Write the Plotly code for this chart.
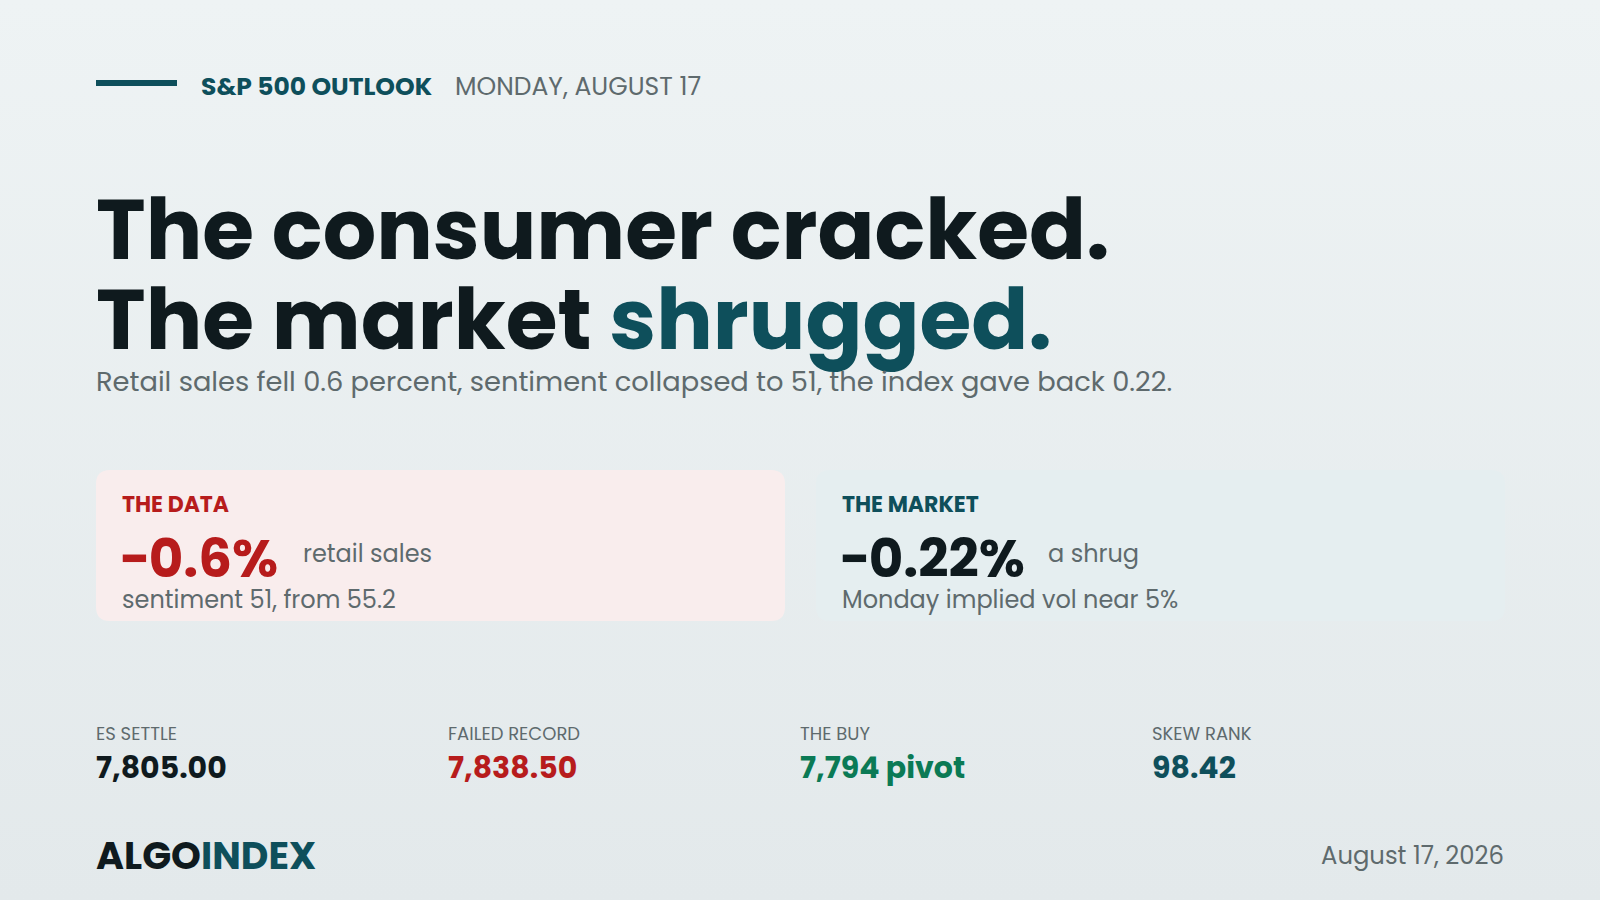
import plotly.graph_objects as go

# --- content ---
kicker = "S&P 500 OUTLOOK"
kicker_date = "MONDAY, AUGUST 17"
headline_1 = "The consumer cracked."
headline_2a = "The market "
headline_2b = "shrugged."
subtitle = "Retail sales fell 0.6 percent, sentiment collapsed to 51, the index gave back 0.22."

panel_titles = ["THE DATA", "THE MARKET"]
panel_values = ["\u22120.6%", "\u22120.22%"]
panel_units = ["retail sales", "a shrug"]
panel_notes = ["sentiment 51, from 55.2", "Monday implied vol near 5%"]

stat_labels = ["ES SETTLE", "FAILED RECORD", "THE BUY", "SKEW RANK"]
stat_values = ["7,805.00", "7,838.50", "7,794 pivot", "98.42"]

brand = ["ALGO", "INDEX"]
footer_date = "August 17, 2026"

# --- style ---
DARK = "#0f1a1e"
TEAL = "#0e4f5b"
RED = "#b71c1c"
GREEN = "#0b7a55"
GRAY = "#5e6a6d"
FONT = "Poppins, Inter, 'Open Sans', sans-serif"

W, H = 1600, 900


def rounded_rect(x0, y0, x1, y1, r):
    return (f"M {x0 + r},{y0} L {x1 - r},{y0} Q {x1},{y0} {x1},{y0 + r} "
            f"L {x1},{y1 - r} Q {x1},{y1} {x1 - r},{y1} L {x0 + r},{y1} "
            f"Q {x0},{y1} {x0},{y1 - r} L {x0},{y0 + r} Q {x0},{y0} {x0 + r},{y0} Z")


fig = go.Figure()

# background gradient (light at top, slightly darker at the bottom)
fig.add_trace(go.Scatter(
    x=[0, W, W, 0, 0], y=[0, 0, H, H, 0], mode="lines",
    line=dict(width=0), fill="toself", hoverinfo="skip", showlegend=False,
    fillgradient=dict(type="vertical",
                      colorscale=[[0, "#e3e9eb"], [1, "#eef3f4"]]),
))

shapes = [
    dict(type="line", x0=96, x1=177, y0=83, y1=83,
         line=dict(color=TEAL, width=6), layer="above"),
    dict(type="path", path=rounded_rect(96, 470, 785, 621, 14),
         fillcolor="#f9eded", line=dict(width=0), layer="above"),
    dict(type="path", path=rounded_rect(816, 470, 1505, 621, 14),
         fillcolor="#e5eef0", line=dict(width=0), layer="above"),
]

ann = []


def txt(x, y, s, size, color, weight=400, xanchor="left"):
    ann.append(dict(x=x, y=y, xref="x", yref="y", text=s, showarrow=False,
                    xanchor=xanchor, yanchor="middle",
                    font=dict(family=FONT, size=size, color=color, weight=weight)))


txt(199, 86, kicker, 25, TEAL, 700)
txt(453, 86, kicker_date, 25, GRAY, 400)

txt(94, 229, headline_1, 84, DARK, 700)
txt(94, 319, f"{headline_2a}<span style='color:{TEAL}'>{headline_2b}</span>", 84, DARK, 700)
txt(94, 381, subtitle, 27.3, GRAY, 400)

panel_x = [120, 840]
title_colors = [RED, TEAL]
value_colors = [RED, DARK]
unit_x = [301, 1046]
for i in range(2):
    txt(panel_x[i], 504, panel_titles[i], 22, title_colors[i], 700)
    txt(panel_x[i] - 2, 558, panel_values[i], 53, value_colors[i], 700)
    txt(unit_x[i], 553, panel_units[i], 24, GRAY, 400)
    txt(panel_x[i], 599, panel_notes[i], 24, GRAY, 400)

stat_x = [94, 446, 798, 1150]
stat_colors = [DARK, RED, GREEN, TEAL]
for x, lab, val, c in zip(stat_x, stat_labels, stat_values, stat_colors):
    txt(x, 733, lab, 18, GRAY, 400)
    txt(x, 767, val, 30, c, 700)

txt(94, 855, f"{brand[0]}<span style='color:{TEAL}'>{brand[1]}</span>", 38, DARK, 700)
txt(1506, 855, footer_date, 24.3, GRAY, 400, xanchor="right")

fig.update_layout(
    width=W, height=H, margin=dict(l=0, r=0, t=0, b=0),
    paper_bgcolor="#e9eff0", plot_bgcolor="rgba(0,0,0,0)",
    xaxis=dict(range=[0, W], visible=False, fixedrange=True),
    yaxis=dict(range=[H, 0], visible=False, fixedrange=True),
    shapes=shapes, annotations=ann, showlegend=False,
)

fig.write_html("out.html", config={"displayModeBar": False},
               post_script="document.body.style.margin='0';document.body.style.overflow='hidden';")
